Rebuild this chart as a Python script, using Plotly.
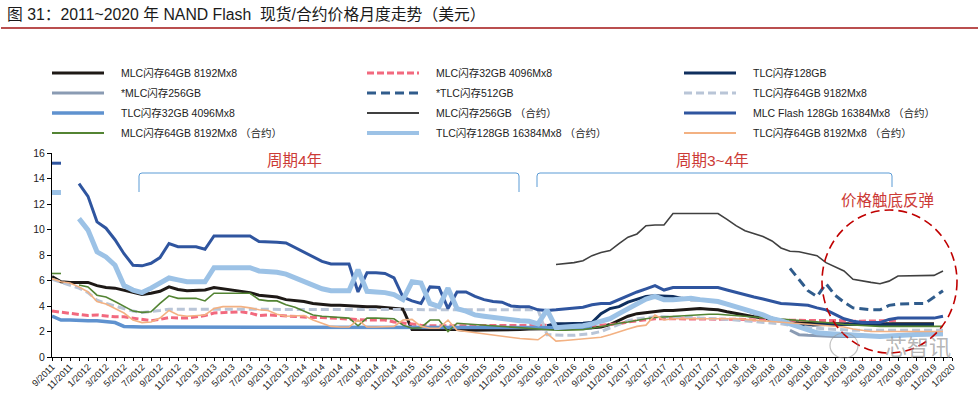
import plotly.graph_objects as go

N = None

# ---- x categories: monthly 9/2011 .. 1/2020 ----
months = []
_y, _m = 2011, 9
while (_y, _m) <= (2020, 1):
    months.append(f"{_m}/{_y}")
    _m += 1
    if _m > 12:
        _m, _y = 1, _y + 1
tick_text = [lbl if i % 2 == 0 else "" for i, lbl in enumerate(months)]

# ---- series values (USD), one value per month ----
mlc64_spot = [
    6.3, 5.9, 5.85, 5.85, 5.85, 5.6, 5.45, 5.4, 5.25, 5.1,
    4.9, 5.0, 5.15, 5.5, 5.3, 5.2, 5.25, 5.25, 5.45, 5.35,
    5.25, 5.2, 5.05, 4.85, 4.8, 4.7, 4.5, 4.45, 4.35, 4.2,
    4.1, 4.05, 4.05, 4.0, 4.0, 3.95, 3.95, 3.9, 3.85, 3.75,
    2.15, 2.15, 2.2, 2.2, 2.15, 2.15, 2.1, 2.1, 2.1, 2.1,
    2.1, 2.15, 2.15, 2.2, 2.2, 2.25, 2.25, 2.25, 2.25, 2.25,
    2.3, 2.35, 2.55, 2.9, 3.2, 3.4, 3.5, 3.6, 3.65, 3.65,
    3.7, 3.75, 3.8, 3.75, 3.7, 3.55, 3.4, 3.3, 3.15, 3.05,
    2.9, 2.8, 2.7, 2.65, 2.6, 2.6, 2.6, 2.6, 2.6, 2.6,
    2.6, 2.6, 2.6, 2.6, 2.6, 2.6, 2.6, 2.6, 2.6, N,
    N]

mlc32_spot = [
    3.6, 3.5, 3.4, 3.3, 3.25, 3.3, 3.2, 3.15, 3.15, 3.05,
    2.9, 2.85, 2.95, 3.1, 3.05, 3.05, 3.15, 3.25, 3.45, 3.5,
    3.5, 3.55, 3.45, 3.25, 3.3, 3.25, 3.2, 3.15, 3.15, 3.1,
    3.1, 3.05, 3.0, 3.0, 2.95, 2.9, 2.9, 2.9, 2.75, 2.65,
    2.55, 2.5, 2.45, 2.45, 2.45, 2.45, 2.45, 2.5, 2.5, 2.5,
    2.5, 2.5, 2.5, 2.5, 2.5, 2.5, 2.5, 2.5, 2.5, 2.5,
    2.5, 2.5, 2.55, 2.6, 2.75, 2.85, 2.95, 3.0, 3.0, 3.0,
    3.0, 3.0, 3.0, 3.0, 3.0, 3.0, 2.95, 2.95, 2.9, 2.9,
    2.9, 2.9, 2.85, 2.85, 2.85, 2.85, 2.85, 2.85, 2.85, 2.8,
    2.8, 2.8, 2.8, 2.85, 2.9, N, N, N, N, N,
    N]

tlc128_spot = [N] * 55 + [
    2.45, 2.6, 2.6, 2.6, 2.65,
    2.7, 3.4, 3.8, 3.95, 4.3, 4.55, 4.75, 4.8, 4.75, 4.75,
    4.6, 4.5, 4.5, 4.45, 4.35, 4.15, 3.95, 3.7, 3.45, 3.25,
    3.05, 2.85, 2.6, 2.45, 2.5, 2.55, 2.55, 2.55, 2.55, 2.55,
    2.55, 2.55, 2.55, 2.55, 2.55, 2.55, 2.55, 2.55, 2.55, N,
    N]

mlc256_spot = [N] * 82 + [
    2.1, 1.75, 1.7, 1.65, 1.65, 1.6, 1.6, 1.6,
    1.6, 1.6, 1.6, 1.65, 1.7, 1.7, 1.7, 1.75, 1.75, 1.75,
    N]

tlc512_spot = [N] * 82 + [
    6.95, 6.1, 5.2, 4.75, 5.75, 4.85, 4.3, 3.85,
    3.75, 3.7, 3.7, 4.05, 4.15, 4.2, 4.2, 4.2, 4.7, 5.2,
    N]

tlc64_9182_spot = [
    6.1, 5.85, 5.65, 5.4, 5.05, 4.45, 4.2, 4.0, 3.75, 3.6,
    3.5, 3.55, 3.65, 3.75, 3.75, 3.75, 3.75, 3.75, 3.75, 3.75,
    3.75, 3.75, 3.75, 3.7, 3.7, 3.7, 3.7, 3.7, 3.7, 3.7,
    3.7, 3.7, 3.7, 3.7, 3.7, 3.7, 3.7, 3.7, 3.7, 3.7,
    3.7, 3.7, 3.7, 3.7, 3.7, 3.7, 3.7, 3.7, 3.7, 3.7,
    3.7, 3.7, 3.7, 3.7, 3.7, 1.75, 1.7, 1.7, 1.7, 1.75,
    1.85, 2.0, 2.3, 2.6, 2.85, 3.0, 3.1, 3.15, 3.15, 3.15,
    3.1, 3.1, 3.05, 3.05, 3.0, 2.95, 2.9, 2.85, 2.8, 2.75,
    2.7, 2.6, 2.5, 2.4, 2.3, 2.25, 2.2, 2.15, 2.1, 2.1,
    2.1, 2.1, 2.1, 2.1, 2.1, 2.1, 2.1, 2.1, 2.1, 2.1,
    N]

tlc32_spot = [
    3.2, 2.9, 2.9, 2.85, 2.85, 2.85, 2.8, 2.7, 2.4, 2.35,
    2.35, 2.35, 2.35, 2.35, 2.35, 2.35, 2.35, 2.35, 2.35, 2.35,
    2.35, 2.35, 2.35, 2.35, 2.35, 2.35, 2.35, 2.35, 2.35, 2.35,
    2.35, 2.35, 2.35, 2.35, 2.35, 2.35, 2.35, 2.35, 2.35, 2.35,
    2.35, 2.35, 2.35, 2.35, 2.35, 2.35, 2.35, 2.35, 2.35, 2.35,
    2.35, 2.35, 2.35, 2.35, 2.35, 2.3, 2.3, 2.3, 2.3, 2.3,
    2.3] + [N] * 40

mlc256_contract = [N] * 56 + [
    7.25, 7.3, 7.4, 7.55,
    7.95, 8.2, 8.35, 8.9, 9.4, 9.65, 10.3, 10.35, 10.35, 11.25,
    11.25, 11.25, 11.25, 11.25, 11.25, 10.8, 10.3, 9.9, 9.65, 9.45,
    9.1, 8.55, 8.3, 8.25, 8.1, 7.95, 7.4, 7.05, 6.75, 6.1,
    5.95, 5.85, 5.75, 5.95, 6.35, 6.35, 6.35, 6.35, 6.4, 6.75,
    N]

mlc128gb_contract = [
    15.2, 15.2, N, 13.6, 12.6, 10.6, 10.1, 9.2, 8.1, 7.2,
    7.15, 7.35, 7.8, 8.9, 8.65, 8.65, 8.65, 8.45, 9.5, 9.5,
    9.5, 9.5, 9.5, 9.05, 9.05, 9.0, 8.95, 8.6, 8.25, 7.85,
    7.5, 7.3, 7.3, 7.3, 5.1, 6.6, 6.6, 6.55, 6.2, 4.7,
    4.4, 4.2, 5.5, 5.45, 3.8, 5.1, 5.1, 4.75, 4.5, 4.35,
    4.3, 4.0, 3.95, 3.95, 3.7, 3.65, 3.7, 3.75, 3.8, 3.9,
    4.1, 4.2, 4.2, 4.5, 4.85, 5.1, 5.35, 5.6, 5.25, 5.45,
    5.45, 5.45, 5.45, 5.45, 5.45, 5.25, 5.05, 4.85, 4.7, 4.55,
    4.4, 4.2, 4.15, 4.1, 4.05, 3.85, 3.7, 3.35, 3.0, 2.8,
    2.7, 2.7, 2.7, 2.95, 3.05, 3.05, 3.05, 3.05, 3.05, 3.2,
    N]

mlc64_contract = [
    6.55, 6.55, N, 5.65, 5.5, 4.85, 4.7, 4.35, 4.0, 3.6,
    3.5, 3.55, 4.2, 4.8, 4.6, 4.6, 4.6, 4.4, 5.0, 5.0,
    5.0, 5.0, 5.0, 4.5, 4.4, 4.4, 4.1, 3.9, 3.6, 3.3,
    3.2, 3.15, 3.1, 3.05, 2.45, 3.05, 3.05, 3.05, 3.0, 2.5,
    2.25, 2.3, 2.9, 2.9, 2.0, 2.65, 2.6, 2.5, 2.45, 2.45,
    2.4, 2.35, 2.3, 2.25, 2.15, 2.1, 2.1, 2.1, 2.1, 2.15,
    2.25, 2.4, 2.5, 2.65, 2.75, 2.9, 3.0, 3.1, 3.15, 3.2,
    3.25, 3.25, 3.3, 3.35, 3.35, 3.3, 3.2, 3.15, 3.1, 3.05,
    3.0, 3.0, 2.95, 2.9, 2.85, 2.8, 2.7, 2.65, 2.55, 2.5,
    2.45, 2.4, 2.4, 2.4, 2.4, 2.4, 2.4, 2.4, 2.4, 2.4,
    N]

tlc128gb_contract = [
    12.9, 12.9, N, 10.85, 9.95, 8.25, 7.85, 7.2, 5.6, 5.25,
    5.05, 5.4, 5.8, 6.2, 6.05, 5.9, 5.9, 5.9, 7.0, 7.0,
    7.0, 7.0, 7.0, 6.75, 6.7, 6.65, 6.5, 6.2, 5.95, 5.65,
    5.35, 5.2, 5.2, 5.2, 6.85, 5.15, 5.1, 5.05, 4.9, 4.5,
    5.9, 5.8, 4.2, 3.95, 5.4, 3.8, 3.6, 3.3, 3.2, 3.1,
    3.05, 2.95, 2.85, 2.8, 2.6, 3.7, 2.3, 2.35, 2.4, 2.45,
    2.6, 2.8, 3.0, 3.4, 3.8, 4.25, 4.55, 4.75, 4.5, 4.5,
    4.55, 4.6, 4.5, 4.4, 4.35, 4.15, 3.95, 3.8, 3.55, 3.3,
    3.0, 2.85, 2.6, 2.4, 2.1, 1.9, 1.85, 1.8, 1.8, 1.7,
    1.65, 1.65, 1.6, 1.65, 1.7, 1.75, 1.8, 1.85, 1.85, 1.85,
    N]

tlc64_contract = [
    6.15, 5.9, 5.8, 5.5, 5.1, 4.35, 4.15, 3.8, 3.45, 2.9,
    2.7, 2.75, 3.05, 3.65, 3.3, 3.2, 3.25, 3.3, 3.8, 3.95,
    3.95, 3.95, 3.85, 3.7, 3.65, 3.35, 3.2, 3.2, 3.25, 2.9,
    2.65, 2.4, 2.35, 2.35, 2.9, 2.35, 2.35, 2.35, 2.4, 2.9,
    2.95, 2.4, 2.25, 2.25, 2.9, 2.1, 2.0, 1.9, 1.8, 1.7,
    1.6, 1.55, 1.45, 1.4, 1.35, 1.85, 1.25, 1.3, 1.35, 1.4,
    1.45, 1.55, 1.75, 2.0, 2.2, 2.4, 2.5, 3.3, 2.9, 3.0,
    3.0, 3.05, 3.05, 3.05, 3.05, 3.05, 3.0, 2.95, 2.9, 2.85,
    2.8, 2.75, 2.7, 2.65, 2.6, 2.5, 2.45, 2.4, 2.35, 2.2,
    2.1, 2.0, 2.0, 2.0, 2.0, 2.0, 2.0, 2.0, 2.0, 2.0,
    N]

series_names = [
    "MLC闪存64GB 8192Mx8", "MLC闪存32GB 4096Mx8", "TLC闪存128GB",
    "*MLC闪存256GB", "*TLC闪存512GB", "TLC闪存64GB 9182Mx8",
    "TLC闪存32GB 4096Mx8", "MLC闪存256GB（合约）", "MLC Flash 128Gb 16384Mx8（合约）",
    "MLC闪存64GB 8192Mx8（合约）", "TLC闪存128GB 16384Mx8（合约）", "TLC闪存64GB 8192Mx8（合约）",
]
legend_labels = [
    "MLC闪存64GB 8192Mx8", "MLC闪存32GB 4096Mx8", "TLC闪存128GB",
    "*MLC闪存256GB", "*TLC闪存512GB", "TLC闪存64GB 9182Mx8",
    "TLC闪存32GB 4096Mx8", "MLC闪存256GB （合约）", "MLC Flash 128Gb 16384Mx8 （合约）",
    "MLC闪存64GB 8192Mx8 （合约）", "TLC闪存128GB 16384Mx8 （合约）", "TLC闪存64GB 8192Mx8 （合约）",
]
series_values = [
    mlc64_spot, mlc32_spot, tlc128_spot,
    mlc256_spot, tlc512_spot, tlc64_9182_spot,
    tlc32_spot, mlc256_contract, mlc128gb_contract,
    mlc64_contract, tlc128gb_contract, tlc64_contract,
]
colors = ["#1e1916", "#f2697e", "#0f2f5e",
          "#8a9bb3", "#305c8c", "#b9c5d7",
          "#5f92cf", "#404040", "#2f559f",
          "#538433", "#9cc2e6", "#f3b182"]
widths = [3, 3, 3, 3, 3, 3, 3.5, 1.6, 3, 1.6, 5, 1.6]
dashes = ["solid", "7px,3px", "solid",
          "solid", "9px,5px", "8px,4px",
          "solid", "solid", "solid",
          "solid", "solid", "solid"]

FONT = "Liberation Sans, Arial, Noto Sans CJK SC, sans-serif"
W, H = 978, 397
L, R, T, B = 52, 26, 153, 40
PW, PH = W - L - R, H - T - B


def px(xp):
    return (xp - L) / PW


def py(yp):
    return (H - B - yp) / PH


fig = go.Figure()
for name, vals, c, w, d in zip(series_names, series_values, colors, widths, dashes):
    fig.add_trace(go.Scatter(
        x=months, y=vals, name=name, mode="lines",
        line=dict(color=c, width=w, dash=d),
        connectgaps=False, showlegend=False,
    ))

shapes = []
annotations = []

# title and red rule
annotations.append(dict(
    text="图 31：2011~2020 年 NAND Flash  现货/合约价格月度走势（美元）",
    xref="paper", yref="paper", x=px(5), y=py(14),
    xanchor="left", yanchor="middle", showarrow=False,
    font=dict(family=FONT, size=15.8, color="#1a1a1a")))
shapes.append(dict(type="line", xref="paper", yref="paper",
                   x0=px(1), x1=px(978), y0=py(28), y1=py(28),
                   line=dict(color="#a31515", width=1.3)))

# legend (3 columns x 4 rows)
col_x = [52, 367, 684]
row_y = [73, 93, 113, 133]
for i, lbl in enumerate(legend_labels):
    r, c = divmod(i, 3)
    x0 = col_x[c]
    yy = row_y[r]
    shapes.append(dict(type="line", xref="paper", yref="paper",
                       x0=px(x0), x1=px(x0 + 52), y0=py(yy), y1=py(yy),
                       line=dict(color=colors[i], width=min(widths[i], 4) if widths[i] > 2 else 2,
                                 dash=dashes[i])))
    annotations.append(dict(text=lbl, xref="paper", yref="paper",
                            x=px(x0 + 67), y=py(yy), xanchor="left", yanchor="middle",
                            showarrow=False, font=dict(family=FONT, size=10.5, color="#222222")))

# cycle brackets
BR = "#5b9bd5"
shapes.append(dict(type="path", xref="paper", yref="paper",
                   path=f"M {px(139)},{py(192)} L {px(139)},{py(176)} Q {px(139)},{py(173)} {px(142)},{py(173)} "
                        f"L {px(516)},{py(173)} Q {px(519)},{py(173)} {px(519)},{py(176)} L {px(519)},{py(192)}",
                   line=dict(color=BR, width=1)))
shapes.append(dict(type="path", xref="paper", yref="paper",
                   path=f"M {px(537)},{py(187)} L {px(537)},{py(176)} Q {px(537)},{py(173)} {px(540)},{py(173)} "
                        f"L {px(889)},{py(173)} Q {px(892)},{py(173)} {px(892)},{py(176)} L {px(892)},{py(187)}",
                   line=dict(color=BR, width=1)))

RED = "#cc3a36"
for txt, xc, yc in [("周期4年", 294, 160), ("周期3~4年", 712, 160), ("价格触底反弹", 887, 200)]:
    annotations.append(dict(text=txt, xref="paper", yref="paper", x=px(xc), y=py(yc),
                            xanchor="center", yanchor="middle", showarrow=False,
                            font=dict(family=FONT, size=15.5, color=RED)))

# dashed circle
shapes.append(dict(type="circle", xref="paper", yref="paper",
                   x0=px(822), x1=px(957), y0=py(353), y1=py(210),
                   line=dict(color="#c00000", width=1.6, dash="9px,5px")))

# watermark
shapes.append(dict(type="circle", xref="paper", yref="paper",
                   x0=px(830), x1=px(858), y0=py(358), y1=py(333),
                   line=dict(color="rgba(150,150,150,0.6)", width=1.2)))
annotations.append(dict(text="芯智讯", xref="paper", yref="paper", x=px(918), y=py(345),
                        xanchor="center", yanchor="middle", showarrow=False,
                        font=dict(family="Noto Sans CJK SC", size=22, color="rgba(140,140,140,0.65)")))

fig.update_layout(
    width=W, height=H,
    margin=dict(l=L, r=R, t=T, b=B, autoexpand=False),
    paper_bgcolor="white", plot_bgcolor="white",
    showlegend=False,
    shapes=shapes, annotations=annotations,
    font=dict(family=FONT, size=10.5, color="#222222"),
    xaxis=dict(type="category", range=[0, 100], tickmode="array",
               tickvals=months, ticktext=tick_text, tickangle=-45,
               automargin=False, ticklabelstandoff=-3,
               showline=True, linecolor="#000000", linewidth=1,
               ticks="outside", ticklen=3, tickcolor="#000000",
               showgrid=False, zeroline=False,
               tickfont=dict(family=FONT, size=9.2, color="#222222")),
    yaxis=dict(range=[0, 16], dtick=2, tick0=0, automargin=False,
               showline=True, linecolor="#000000", linewidth=1,
               ticks="outside", ticklen=4, tickcolor="#000000",
               showgrid=False, zeroline=False,
               tickfont=dict(family=FONT, size=10.5, color="#222222")),
)

fig.write_html("out.html",
               config={"displayModeBar": False},
               post_script="document.body.style.margin='0';document.body.style.padding='0';")
